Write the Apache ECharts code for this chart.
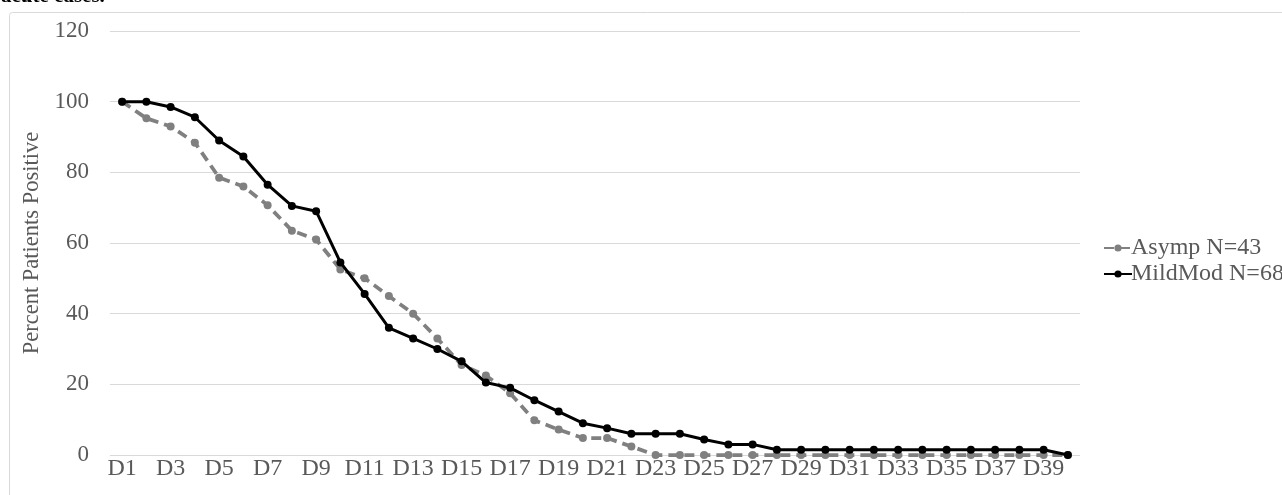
<!DOCTYPE html>
<html>
<head>
<meta charset="utf-8">
<script src="https://cdn.jsdelivr.net/npm/echarts@6/dist/echarts.min.js"></script>
<style>
html,body{margin:0;padding:0;background:#fff;}
#chart{width:1282px;height:495px;}
</style>
</head>
<body>
<div id="chart"></div>
<script>
var categories = [];
for (var i = 1; i <= 40; i++) categories.push('D' + i);

var asympName = 'Asymp N=43';
var mildName = 'MildMod N=68';

var asympValues = [100, 95.3, 93.0, 88.4, 78.5, 76.0, 70.7, 63.5, 61.0, 52.5,
                   50.0, 45.0, 40.0, 33.0, 25.5, 22.5, 17.5, 9.8, 7.2, 4.8,
                   4.8, 2.4, 0, 0, 0, 0, 0, 0, 0, 0,
                   0, 0, 0, 0, 0, 0, 0, 0, 0, 0];

var mildValues = [100, 100, 98.5, 95.6, 89.0, 84.5, 76.5, 70.5, 69.0, 54.5,
                  45.6, 36.0, 33.0, 30.0, 26.5, 20.5, 19.0, 15.5, 12.3, 9.0,
                  7.6, 6.0, 6.0, 6.0, 4.4, 3.0, 3.0, 1.5, 1.5, 1.5,
                  1.5, 1.5, 1.5, 1.5, 1.5, 1.5, 1.5, 1.5, 1.5, 0];

var yTicks = { min: 0, max: 120, interval: 20 };

var chart = echarts.init(document.getElementById('chart'), null, { renderer: 'canvas' });
var fontFam = '"Liberation Serif", "Times New Roman", serif';
chart.setOption({
  animation: false,
  backgroundColor: '#ffffff',
  textStyle: { fontFamily: fontFam },
  graphic: [
    { type: 'rect', shape: { x: 9.5, y: 12.5, width: 1400, height: 600, r: 3 },
      style: { fill: 'none', stroke: '#d9d9d9', lineWidth: 1 }, z: -1 },
    { type: 'text', x: 1, y: 7,
      style: { text: 'acute cases.', font: 'bold 21px "Liberation Serif"', fill: '#000',
               verticalAlign: 'bottom' }, z: 10 }
  ],
  grid: { left: 110, right: 202, top: 31, bottom: 40, containLabel: false },
  legend: {
    orient: 'vertical',
    left: 1098,
    top: 231,
    itemWidth: 28,
    itemHeight: 9,
    itemGap: 2,
    textStyle: { fontFamily: fontFam, fontSize: 24, color: '#595959', padding: [0, 0, 0, -6] },
    data: [asympName, mildName]
  },
  xAxis: {
    type: 'category',
    data: categories,
    boundaryGap: true,
    axisLine: { show: false },
    axisTick: { show: false },
    axisLabel: { interval: 1, fontFamily: fontFam, fontSize: 24, color: '#595959', margin: 2 }
  },
  yAxis: {
    type: 'value',
    min: yTicks.min, max: yTicks.max, interval: yTicks.interval,
    name: 'Percent Patients Positive',
    nameLocation: 'middle',
    nameGap: 58,
    nameTextStyle: { fontFamily: fontFam, fontSize: 22.5, color: '#595959' },
    axisLine: { show: false },
    axisTick: { show: false },
    splitLine: { lineStyle: { color: '#d9d9d9', width: 1 } },
    axisLabel: { fontFamily: fontFam, fontSize: 23, color: '#595959', margin: 21 }
  },
  series: [
    {
      name: asympName, type: 'line', data: asympValues,
      symbol: 'circle', symbolSize: 8,
      itemStyle: { color: '#808080' },
      lineStyle: { color: '#808080', width: 3.75, type: [10, 6] },
      z: 2
    },
    {
      name: mildName, type: 'line', data: mildValues,
      symbol: 'circle', symbolSize: 8,
      itemStyle: { color: '#000000' },
      lineStyle: { color: '#000000', width: 3 },
      z: 3
    }
  ]
});
</script>
</body>
</html>
